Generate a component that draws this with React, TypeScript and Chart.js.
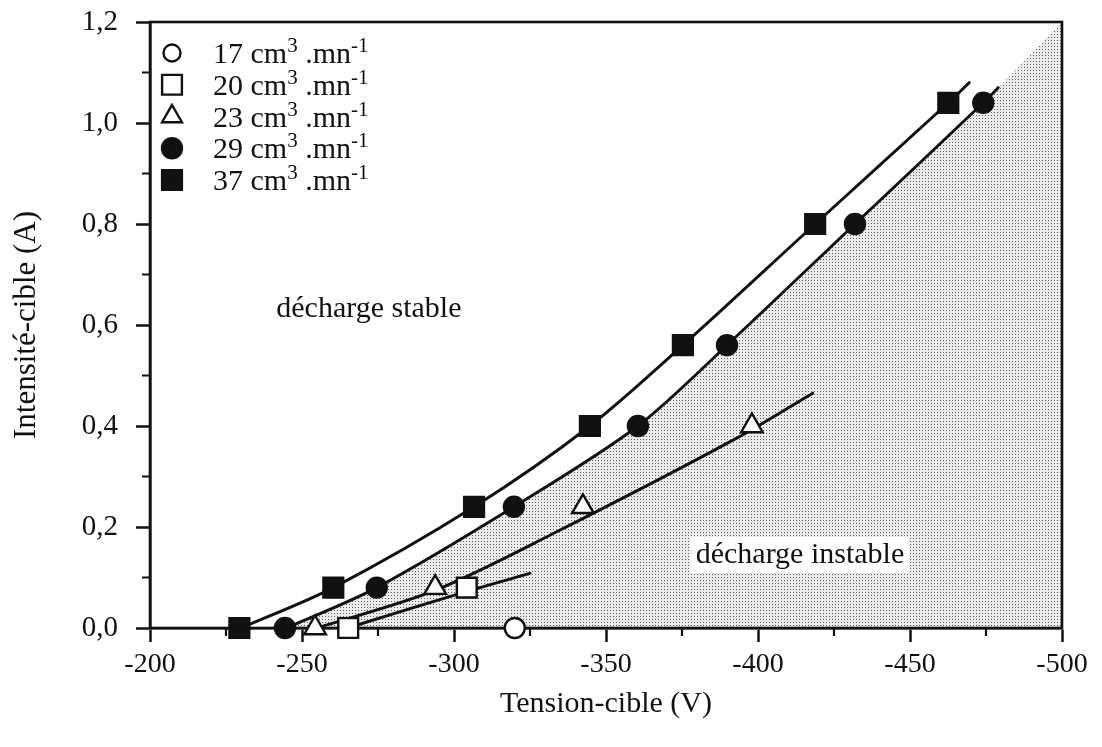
import React, { useEffect, useRef } from 'react';
import { Chart, registerables } from 'chart.js';
import { drawPoint } from 'chart.js/helpers';

Chart.register(...registerables);

// ---- measured points (x: target voltage in V, y: target current in A) ----
const flowLabels = ['17', '20', '23', '29', '37'];

const v17 = [-320];
const i17 = [0];
const v20 = [-265.2, -304.2];
const i20 = [0, 0.08];
const v23 = [-254.3, -293.8, -342.4, -398];
const i23 = [0, 0.08, 0.24, 0.4];
const v29 = [-244.4, -274.6, -319.7, -360.5, -389.8, -431.9, -474.1];
const i29 = [0, 0.08, 0.24, 0.4, 0.56, 0.8, 1.04];
const v37 = [-229.4, -260.3, -306.6, -344.7, -375.3, -418.8, -462.6];
const i37 = [0, 0.08, 0.24, 0.4, 0.56, 0.8, 1.04];

// ---- hand-drawn fitted curves ----
const fitV20 = [-265, -304, -325];
const fitI20 = [0, 0.072, 0.108];
const fitV23 = [-255, -294, -332, -393, -418];
const fitI23 = [0, 0.075, 0.185, 0.376, 0.465];
const fitV29 = [-245, -274.6, -319.7, -360.5, -389.8, -431.9, -474.1, -479];
const fitI29 = [0, 0.08, 0.24, 0.4, 0.56, 0.8, 1.04, 1.07];
const fitV37 = [-230, -260.3, -306.6, -344.7, -375.3, -418.8, -462.6, -469.5];
const fitI37 = [0, 0.08, 0.24, 0.4, 0.56, 0.8, 1.04, 1.08];

// ---- boundary of the unstable-discharge region ----
const shadeV = [-245, -274.6, -319.7, -360.5, -389.8, -431.9, -474.1, -500];
const shadeI = [0, 0.08, 0.24, 0.4, 0.56, 0.8, 1.04, 1.2];

// ---- axes ----
const xMin = -500;
const xMax = -200;
const xStep = 50;
const xMinorTicks = [-225, -275, -325, -375, -425, -475];
const yMin = 0;
const yMax = 1.2;
const yStep = 0.2;
const yMinorTicks = [0.1, 0.3, 0.5, 0.7, 0.9, 1.1];

const FONT = '"Liberation Serif", "Times New Roman", serif';
const INK = '#111';

const pts = (xs: number[], ys: number[]) => xs.map((x, k) => ({ x, y: ys[k] }));

const SHADE_INDEX = 0;

const markerStyles = [
  { pointStyle: 'circle', radius: 10, fill: '#fff', legendRadius: 8.5 },
  { pointStyle: 'rect', radius: 14, fill: '#fff', legendRadius: 14 },
  { pointStyle: 'triangle', radius: 12.5, fill: '#fff', legendRadius: 11.5 },
  { pointStyle: 'circle', radius: 10, fill: INK, legendRadius: 10 },
  { pointStyle: 'rect', radius: 14, fill: INK, legendRadius: 14 },
];

const framePlugin = {
  id: 'frameAndMinorTicks',
  afterDatasetDraw(chart: any, args: any) {
    if (args.index !== SHADE_INDEX) return;
    const { ctx, chartArea: a } = chart;
    const xs = chart.scales.x;
    const ys = chart.scales.y;
    ctx.save();
    ctx.strokeStyle = INK;
    ctx.lineWidth = 2.6;
    ctx.strokeRect(a.left, a.top, a.right - a.left, a.bottom - a.top);
    ctx.lineWidth = 2.2;
    ctx.beginPath();
    xMinorTicks.forEach((v) => {
      const p = xs.getPixelForValue(v);
      ctx.moveTo(p, a.bottom);
      ctx.lineTo(p, a.bottom + 8);
    });
    yMinorTicks.forEach((v) => {
      const p = ys.getPixelForValue(v);
      ctx.moveTo(a.left, p);
      ctx.lineTo(a.left - 8, p);
    });
    ctx.stroke();
    ctx.restore();
  },
};

const annotationPlugin = {
  id: 'regionLabels',
  afterDatasetsDraw(chart: any) {
    const { ctx, chartArea: a } = chart;
    const xs = chart.scales.x;
    const ys = chart.scales.y;
    ctx.save();
    ctx.font = `30px ${FONT}`;
    ctx.textAlign = 'center';
    ctx.textBaseline = 'alphabetic';
    ctx.fillStyle = INK;
    ctx.fillText('décharge stable', xs.getPixelForValue(-272), ys.getPixelForValue(0.616));

    const t = 'décharge instable';
    const cx = xs.getPixelForValue(-413.8);
    const by = ys.getPixelForValue(0.129);
    const w = ctx.measureText(t).width;
    ctx.fillStyle = '#fff';
    ctx.fillRect(cx - w / 2 - 5, by - 26, w + 10, 36);
    ctx.fillStyle = INK;
    ctx.fillText(t, cx, by);

    // legend inside the plot
    const mx = a.left + 22;
    const tx = a.left + 63;
    ctx.textAlign = 'left';
    flowLabels.forEach((lab, k) => {
      const cy = a.top + 31 + k * 31.75;
      const st = markerStyles[k];
      ctx.fillStyle = st.fill;
      ctx.strokeStyle = INK;
      ctx.lineWidth = 2.4;
      drawPoint(ctx, { pointStyle: st.pointStyle, radius: st.legendRadius, borderWidth: 2.4, rotation: 0 } as any, mx, cy);
      const base = cy + 10;
      let x = tx;
      ctx.fillStyle = INK;
      ctx.font = `30px ${FONT}`;
      const s1 = `${lab} cm`;
      ctx.fillText(s1, x, base);
      x += ctx.measureText(s1).width;
      ctx.font = `21px ${FONT}`;
      ctx.fillText('3', x, base - 11);
      x += ctx.measureText('3').width;
      ctx.font = `30px ${FONT}`;
      const s2 = ' .mn';
      ctx.fillText(s2, x, base);
      x += ctx.measureText(s2).width;
      ctx.font = `21px ${FONT}`;
      ctx.fillText('-1', x, base - 11);
    });
    ctx.restore();
  },
};

function fitLine(xs: number[], ys: number[]) {
  return {
    type: 'line',
    data: pts(xs, ys),
    borderColor: INK,
    borderWidth: 2.9,
    pointRadius: 0,
    fill: false,
    tension: 0.3,
    borderCapStyle: 'round',
    borderJoinStyle: 'round',
    clip: false,
    order: 5,
  };
}

function markers(xs: number[], ys: number[], k: number) {
  const st = markerStyles[k];
  return {
    type: 'line',
    label: `${flowLabels[k]} cm³ .mn⁻¹`,
    data: pts(xs, ys),
    showLine: false,
    pointStyle: st.pointStyle,
    pointRadius: st.radius,
    pointBackgroundColor: st.fill,
    pointBorderColor: INK,
    pointBorderWidth: 2.4,
    clip: false,
    order: 1,
  };
}

export default function App() {
  const ref = useRef<HTMLCanvasElement>(null);

  useEffect(() => {
    const canvas = ref.current!;
    const tile = document.createElement('canvas');
    tile.width = 3;
    tile.height = 3;
    const tctx = tile.getContext('2d')!;
    tctx.fillStyle = '#ececec';
    tctx.fillRect(0, 0, 3, 3);
    tctx.fillStyle = '#5e5e5e';
    tctx.fillRect(1, 1, 1, 1);
    const pattern = canvas.getContext('2d')!.createPattern(tile, 'repeat');

    const tickFont = { family: FONT, size: 28 };

    const chart = new Chart(canvas, {
      type: 'line',
      data: {
        datasets: [
          {
            type: 'line',
            data: pts(shadeV, shadeI),
            borderWidth: 0,
            borderColor: 'rgba(0,0,0,0)',
            backgroundColor: pattern as any,
            pointRadius: 0,
            fill: 'origin',
            tension: 0.3,
            order: 10,
          },
          fitLine(fitV20, fitI20),
          fitLine(fitV23, fitI23),
          fitLine(fitV29, fitI29),
          fitLine(fitV37, fitI37),
          markers(v17, i17, 0),
          markers(v20, i20, 1),
          markers(v23, i23, 2),
          markers(v29, i29, 3),
          markers(v37, i37, 4),
        ] as any,
      },
      options: {
        animation: false,
        responsive: false,
        devicePixelRatio: 1,
        layout: { padding: { top: 22, right: 40, left: 0, bottom: 0 } },
        plugins: {
          legend: { display: false },
          tooltip: { enabled: false },
        },
        scales: {
          x: {
            type: 'linear',
            min: xMin,
            max: xMax,
            reverse: true,
            afterFit: (s: any) => {
              s.height = 119;
              s.paddingLeft = 0;
              s.paddingRight = 0;
            },
            ticks: {
              stepSize: xStep,
              autoSkip: false,
              maxRotation: 0,
              padding: 6,
              color: INK,
              font: tickFont,
              callback: (v: any) => String(v),
            },
            grid: {
              drawOnChartArea: false,
              drawTicks: true,
              tickLength: 14,
              tickWidth: 2.5,
              tickColor: INK,
            },
            border: { display: true, color: INK, width: 2.6 },
            title: {
              display: true,
              text: 'Tension-cible (V)',
              color: INK,
              font: { family: FONT, size: 30 },
              padding: { top: 0, bottom: 25 },
            },
          },
          y: {
            type: 'linear',
            min: yMin,
            max: yMax,
            afterFit: (s: any) => {
              s.width = 150;
              s.paddingTop = 0;
              s.paddingBottom = 0;
            },
            ticks: {
              stepSize: yStep,
              autoSkip: false,
              padding: 18,
              color: INK,
              font: { family: FONT, size: 29 },
              callback: (v: any) => Number(v).toFixed(1).replace('.', ','),
            },
            grid: {
              drawOnChartArea: false,
              drawTicks: true,
              tickLength: 14,
              tickWidth: 2.5,
              tickColor: INK,
            },
            border: { display: true, color: INK, width: 2.6 },
            title: {
              display: true,
              text: 'Intensité-cible (A)',
              color: INK,
              font: { family: FONT, size: 31 },
              padding: { top: 8, bottom: 0 },
            },
          },
        },
      } as any,
      plugins: [framePlugin, annotationPlugin],
    });
    return () => chart.destroy();
  }, []);

  return (
    <div style={{ position: 'fixed', left: 0, top: 0, width: 1102, height: 747, background: '#fff' }}>
      <canvas ref={ref} width={1102} height={747} style={{ display: 'block' }} />
    </div>
  );
}
